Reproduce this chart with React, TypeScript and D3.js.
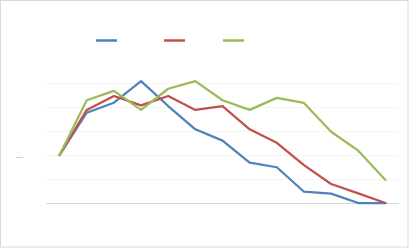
import React from "react";
import * as d3 from "d3";

const categories = ["1", "2", "3", "4", "5", "6", "7", "8", "9", "10", "11", "12", "13"];
const seriesNames = ["Series 1", "Series 2", "Series 3"];
const blueValues = [2.0, 3.76, 4.18, 5.08, 4.04, 3.07, 2.6, 1.68, 1.49, 0.47, 0.39, 0.0, 0.0];
const redValues = [2.0, 3.88, 4.46, 4.07, 4.46, 3.88, 4.04, 3.07, 2.51, 1.58, 0.79, 0.4, 0.0];
const greenValues = [2.0, 4.28, 4.67, 3.88, 4.76, 5.08, 4.28, 3.88, 4.38, 4.17, 2.97, 2.18, 0.96];
const yTicks = [0, 1, 2, 3, 4, 5];
const colors = ["#4F81BD", "#C0504D", "#9BBB59"];

const W = 409;
const H = 248;

export default function App() {
  const x = d3.scaleBand<string>().domain(categories).range([46, 399]);
  const y = d3.scaleLinear().domain([0, 5]).range([203, 83]);
  const line = d3
    .line<number>()
    .x((_, i) => (x(categories[i]) as number) + x.bandwidth() / 2)
    .y((d) => y(d));
  const series = [blueValues, redValues, greenValues];
  const legendX = [
    [96, 117],
    [164, 185],
    [223, 244],
  ];
  return (
    <svg
      width={W}
      height={H}
      style={{ position: "absolute", left: 0, top: 0, background: "#fff" }}
    >
      <rect x={0.5} y={0.5} width={W - 1.5} height={H - 1.5} fill="#fff" stroke="#d9d9d9" />
      {yTicks.map((t) => (
        <line
          key={t}
          x1={46}
          x2={399}
          y1={Math.round(y(t)) + 0.5}
          y2={Math.round(y(t)) + 0.5}
          stroke={t === 0 ? "#d9d9d9" : "#f4f4f4"}
          strokeWidth={1}
        />
      ))}
      <line x1={16} x2={23} y1={157.5} y2={157.5} stroke="#d0d0d0" strokeWidth={1} />
      {series.map((s, i) => (
        <path
          key={seriesNames[i]}
          d={line(s) || ""}
          fill="none"
          stroke={colors[i]}
          strokeWidth={2.25}
          strokeLinejoin="round"
          strokeLinecap="round"
        />
      ))}
      {seriesNames.map((n, i) => (
        <line
          key={n}
          x1={legendX[i][0]}
          x2={legendX[i][1]}
          y1={40.5}
          y2={40.5}
          stroke={colors[i]}
          strokeWidth={2.5}
        />
      ))}
    </svg>
  );
}
